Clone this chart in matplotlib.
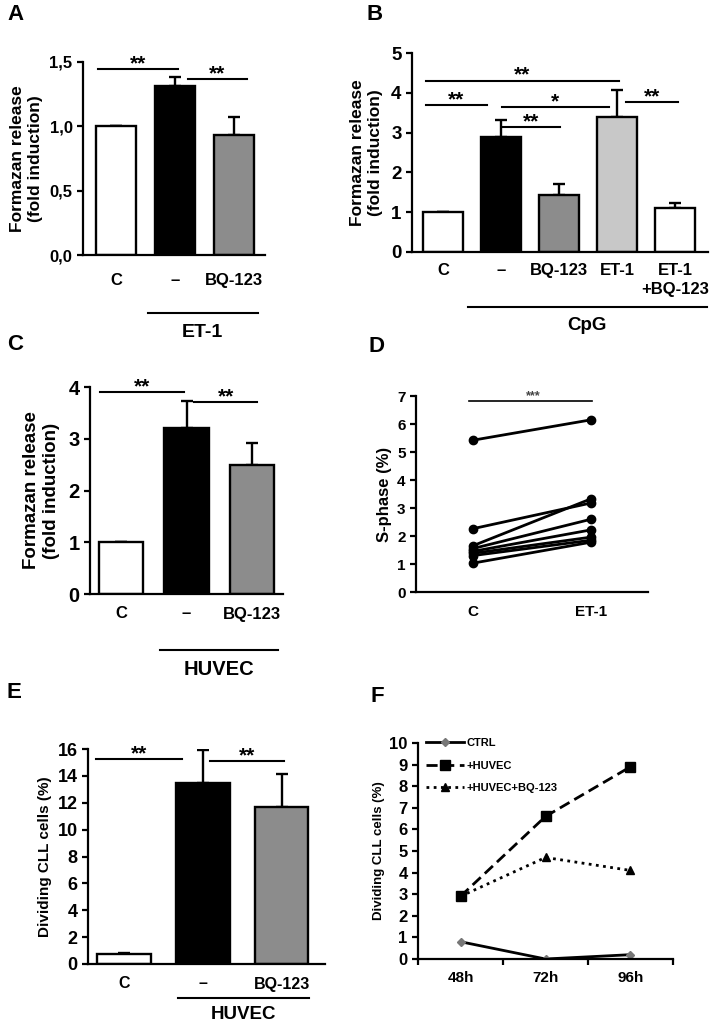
import matplotlib
matplotlib.use("Agg")
import matplotlib.pyplot as plt

plt.rcParams['font.family'] = ['Liberation Sans', 'DejaVu Sans']
plt.rcParams['font.weight'] = 'bold'
plt.rcParams['axes.labelweight'] = 'bold'
plt.rcParams['axes.linewidth'] = 1.6

# ---- data ----
a_labels = ['C', '–', 'BQ-123']
a_vals = [1.0, 1.31, 0.93]
a_err = [0, 0.07, 0.14]

b_labels = ['C', '–', 'BQ-123', 'ET-1', 'ET-1\n+BQ-123']
b_vals = [1.0, 2.89, 1.43, 3.40, 1.10]
b_err = [0, 0.42, 0.27, 0.67, 0.12]

c_labels = ['C', '–', 'BQ-123']
c_vals = [1.0, 3.2, 2.5]
c_err = [0, 0.52, 0.41]

d_labels = ['C', 'ET-1']
d_control = [5.42, 2.26, 1.65, 1.55, 1.45, 1.38, 1.30, 1.03]
d_et1 = [6.15, 3.18, 3.33, 2.60, 2.22, 1.96, 1.85, 1.78]

e_labels = ['C', '–', 'BQ-123']
e_vals = [0.74, 13.5, 11.65]
e_err = [0.1, 2.45, 2.5]

f_times = ['48h', '72h', '96h']
f_ctrl = [0.8, 0.0, 0.2]
f_huvec = [2.9, 6.6, 8.9]
f_bq = [2.9, 4.7, 4.1]

# significance bars: (start, end, height, stars)
a_sig = [(-0.31, 1.05, 1.446, '**'), (1.22, 2.22, 1.368, '**')]
b_sig = [(-0.30, 3.03, 4.30, '**'), (-0.30, 0.75, 3.69, '**'),
         (1.01, 2.86, 3.64, '*'), (1.03, 2.01, 3.14, '**'),
         (3.15, 4.05, 3.77, '**')]
c_sig = [(-0.33, 0.96, 3.90, '**'), (1.12, 2.08, 3.71, '**')]
e_sig = [(-0.36, 0.73, 15.25, '**'), (1.09, 2.03, 15.1, '**')]

W, H = 716, 1027
fig = plt.figure(figsize=(W / 100, H / 100), dpi=100)


def add_ax(left, top, right, bottom):
    return fig.add_axes([left / W, 1 - bottom / H, (right - left) / W, (bottom - top) / H])


def style(ax, ysize, xsize, pad_x):
    for s in ['top', 'right']:
        ax.spines[s].set_visible(False)
    ax.tick_params(axis='y', direction='out', length=4.5, width=1.6,
                   labelsize=ysize, pad=3)
    ax.tick_params(axis='x', length=0, labelsize=xsize, pad=pad_x)


def bars(ax, vals, err, colors, width):
    x = range(len(vals))
    ax.bar(x, vals, width=width, color=colors, edgecolor='black', linewidth=1.7, zorder=2)
    ax.errorbar(x, vals, yerr=[[0] * len(err), err], fmt='none', ecolor='black',
                elinewidth=1.7, capsize=4.5, capthick=1.7, zorder=1)


def sig(ax, items, size):
    for x0, x1, y, s in items:
        ax.plot([x0, x1], [y, y], color='black', lw=1.5, clip_on=False)
        ax.annotate(s, xy=((x0 + x1) / 2, y), xytext=(0, 0), textcoords='offset points',
                    ha='center', va='baseline', fontsize=size, annotation_clip=False)


def group(ax, x0, x1, y_line, y_text, label, size):
    tr = ax.get_xaxis_transform()
    ax.plot([x0, x1], [y_line, y_line], color='black', lw=1.5, transform=tr, clip_on=False)
    ax.text((x0 + x1) / 2, y_text, label, transform=tr, ha='center', va='center', fontsize=size)


# ---- A ----
ax = add_ax(83, 62, 265, 255)
bars(ax, a_vals, a_err, ['white', 'black', '#8c8c8c'], 0.68)
ax.set_ylim(0, 1.5)
ax.set_xlim(-0.56, 2.53)
ax.set_yticks([0, 0.5, 1.0, 1.5])
ax.set_yticklabels(['0,0', '0,5', '1,0', '1,5'])
ax.set_xticks(range(3))
ax.set_xticklabels(a_labels)
style(ax, 12, 12, 13)
ax.set_ylabel('Formazan release\n(fold induction)', fontsize=12.5, labelpad=5)
sig(ax, a_sig, 15)
group(ax, 0.54, 2.41, -0.30, -0.404, 'ET-1', 14)
fig.text(7 / W, 1 - 15 / H, 'A', fontsize=16, va='center', ha='left')

# ---- B ----
ax = add_ax(412, 53, 708, 252)
bars(ax, b_vals, b_err, ['white', 'black', '#8c8c8c', '#c8c8c8', 'white'], 0.69)
ax.set_ylim(0, 5)
ax.set_xlim(-0.54, 4.57)
ax.set_yticks(range(6))
ax.set_xticks(range(5))
ax.set_xticklabels(b_labels, linespacing=1.3)
style(ax, 13.5, 12, 8)
ax.set_ylabel('Formazan release\n(fold induction)', fontsize=12.5, labelpad=6)
sig(ax, b_sig, 15)
group(ax, 0.42, 4.55, -0.276, -0.367, 'CpG', 13.5)
fig.text(366 / W, 1 - 14 / H, 'B', fontsize=16, va='center', ha='left')

# ---- C ----
ax = add_ax(90, 387, 283, 594)
bars(ax, c_vals, c_err, ['white', 'black', '#8c8c8c'], 0.68)
ax.set_ylim(0, 4)
ax.set_xlim(-0.48, 2.48)
ax.set_yticks(range(5))
ax.set_xticks(range(3))
ax.set_xticklabels(c_labels)
style(ax, 14.5, 12, 9)
ax.set_ylabel('Formazan release\n(fold induction)', fontsize=13.5, labelpad=6)
sig(ax, c_sig, 15)
group(ax, 0.59, 2.41, -0.27, -0.367, 'HUVEC', 14.5)
fig.text(7 / W, 1 - 345 / H, 'C', fontsize=16, va='center', ha='left')

# ---- D ----
ax = add_ax(416, 396, 648, 592)
for c0, c1 in zip(d_control, d_et1):
    ax.plot([0, 1], [c0, c1], color='black', lw=2, marker='o', ms=6)
ax.set_ylim(0, 7)
ax.set_xlim(-0.48, 1.48)
ax.set_yticks(range(8))
ax.set_xticks([0, 1])
ax.set_xticklabels(d_labels)
style(ax, 11, 11, 9)
ax.set_ylabel('S-phase (%)', fontsize=12, labelpad=4)
ax.plot([-0.03, 1.01], [6.82, 6.82], color='black', lw=1.2, clip_on=False)
ax.text(0.51, 6.9, '***', ha='center', va='baseline', fontsize=9, color='#444444')
fig.text(368 / W, 1 - 347 / H, 'D', fontsize=16, va='center', ha='left')

# ---- E ----
ax = add_ax(88, 749, 325, 964)
bars(ax, e_vals, e_err, ['white', 'black', '#8c8c8c'], 0.68)
ax.set_ylim(0, 16)
ax.set_xlim(-0.46, 2.55)
ax.set_yticks(range(0, 17, 2))
ax.set_xticks(range(3))
ax.set_xticklabels(e_labels)
style(ax, 13, 11.5, 9)
ax.set_ylabel('Dividing CLL cells (%)', fontsize=11, labelpad=4)
sig(ax, e_sig, 15)
group(ax, 0.68, 2.35, -0.158, -0.237, 'HUVEC', 13.5)
fig.text(7 / W, 1 - 693 / H, 'E', fontsize=16, va='center', ha='left')

# ---- F ----
ax = add_ax(418, 743, 673, 959)
xf = range(len(f_times))
ax.plot(xf, f_ctrl, color='black', lw=2, marker='D', ms=4, mfc='#777777', mec='#777777',
        label='CTRL')
ax.plot(xf, f_huvec, color='black', lw=2, ls=(0, (4, 2)), marker='s', ms=7, label='+HUVEC')
ax.plot(xf, f_bq, color='black', lw=2, ls=(0, (1, 1.6)), marker='^', ms=6,
        label='+HUVEC+BQ-123')
ax.set_ylim(0, 10)
ax.set_xlim(-0.5, 2.5)
ax.set_yticks(range(11))
ax.set_xticks([-0.5, 0.5, 1.5, 2.5])
ax.set_xticklabels([])
ax.set_xticks(list(xf), minor=True)
ax.set_xticklabels(f_times, minor=True)
for s in ['top', 'right']:
    ax.spines[s].set_visible(False)
ax.tick_params(axis='y', direction='out', length=4.5, width=1.6, labelsize=12, pad=3)
ax.tick_params(axis='x', which='major', direction='out', length=4.5, width=1.6)
ax.tick_params(axis='x', which='minor', length=0, labelsize=11, pad=9)
ax.set_ylabel('Dividing CLL cells (%)', fontsize=9.5, labelpad=3)
ax.legend(loc='upper left', bbox_to_anchor=(0.0, 1.06), frameon=False, fontsize=8,
          handlelength=3.4, labelspacing=1.15, handletextpad=0.3, numpoints=1,
          borderaxespad=0.3)
fig.text(370 / W, 1 - 697 / H, 'F', fontsize=16, va='center', ha='left')

fig.savefig('out.png', dpi=100)
